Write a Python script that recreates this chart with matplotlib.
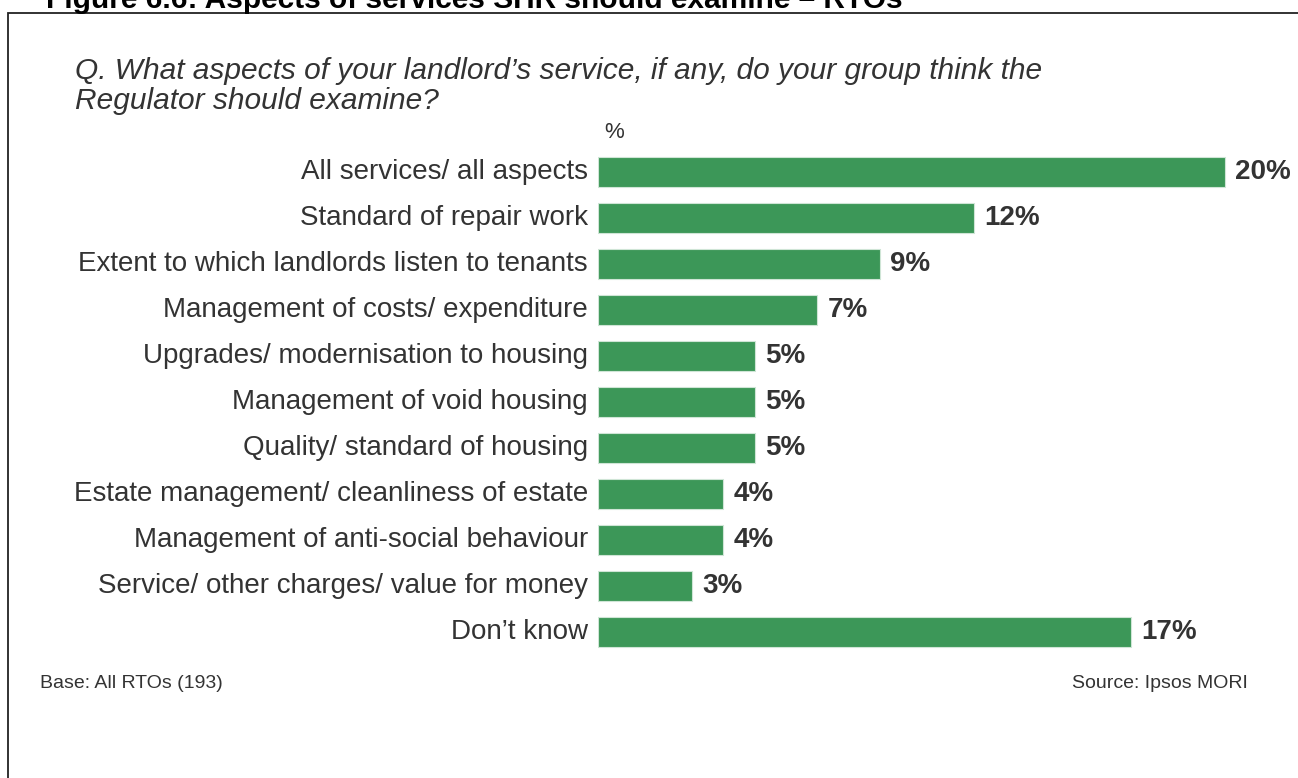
import matplotlib
matplotlib.use("Agg")
import matplotlib.pyplot as plt
from matplotlib.patches import Rectangle

# データ
categories = [
    "All services/ all aspects",
    "Standard of repair work",
    "Extent to which landlords listen to tenants",
    "Management of costs/ expenditure",
    "Upgrades/ modernisation to housing",
    "Management of void housing",
    "Quality/ standard of housing",
    "Estate management/ cleanliness of estate",
    "Management of anti-social behaviour",
    "Service/ other charges/ value for money",
    "Don\u2019t know",
]
values = [20, 12, 9, 7, 5, 5, 5, 4, 4, 3, 17]

title = "Figure 6.6: Aspects of services SHR should examine \u2013 RTOs"
question = "Q. What aspects of your landlord\u2019s service, if any, do your group think the\nRegulator should examine?"
base_note = "Base: All RTOs (193)"
source_note = "Source: Ipsos MORI"

plt.rcParams["font.family"] = ["Liberation Sans", "DejaVu Sans"]
W, H = 1298, 778
fig = plt.figure(figsize=(W / 100, H / 100), dpi=100)
fig.patch.set_facecolor("white")

# 枠線
fig.patches.append(Rectangle((8 / W, -0.1), 1.5, (H - 13) / H + 0.1, transform=fig.transFigure,
                             fill=False, edgecolor="#222222", linewidth=1.3))

# 棒グラフ
ax = fig.add_axes([598 / W, 1 - 655 / H, 689.7 / W, 506 / H])
ypos = list(range(len(categories)))
ax.barh(ypos, values, height=0.67, color="#3C9758", edgecolor="#CFE5D6", linewidth=0.8)
ax.set_xlim(0, 22)
ax.set_ylim(len(categories) - 0.5, -0.5)
ax.axis("off")

for y, v, c in zip(ypos, values, categories):
    ax.text(v + 0.33, y, str(v) + "%", va="center", ha="left", fontsize=20,
            fontweight="bold", color="#333333")
    ax.text(-0.32, y, c, va="center", ha="right", fontsize=20, color="#333333")

ax.text(0.2, -0.85, "%", va="center", ha="left", fontsize=16, color="#333333")

fig.text(75 / W, 1 - 86 / H, question, ha="left", va="center", fontsize=21.5,
         style="italic", color="#333333", linespacing=1.05)
fig.text(46 / W, 1 - 8 / H, title, ha="left", va="baseline", fontsize=21.5,
         fontweight="bold", color="black")
fig.text(40 / W, 1 - 683 / H, base_note, ha="left", va="center", fontsize=14, color="#333333")
fig.text(1248 / W, 1 - 683 / H, source_note, ha="right", va="center", fontsize=14, color="#333333")

fig.savefig("out.png", dpi=100)
